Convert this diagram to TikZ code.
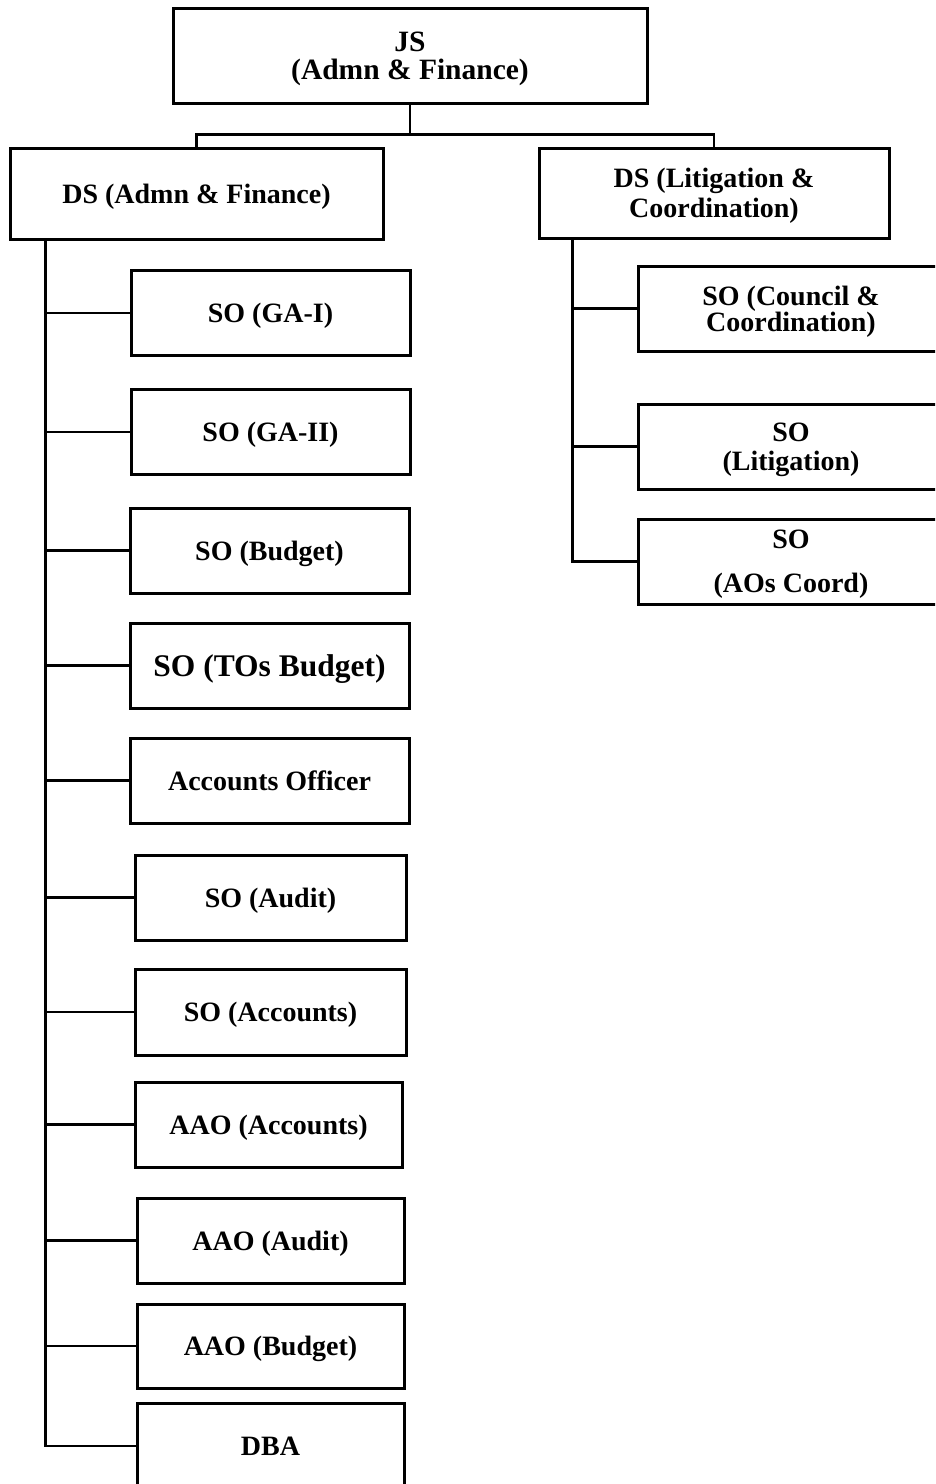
\documentclass[tikz,border=0pt]{standalone}
\usepackage{fontspec}
\setmainfont{Liberation Serif}
\usetikzlibrary{calc}
\begin{document}
\begin{tikzpicture}[x=1pt,y=-1pt,
  box/.style={draw, line width=3pt, inner sep=0pt, align=center, text depth=0pt,
    font=\fontsize{28}{29.5}\selectfont\bfseries},
  lbox/.style={box, minimum width=279, minimum height=85},
  rbox/.style={box, minimum width=306, minimum height=85},
  conn/.style={line width=2.7pt}]
\useasboundingbox (0,0) rectangle (935,1484);
\clip (0,0) rectangle (935,1484);
\fill[white] (0,0) rectangle (935,1484);

% top level
\node[box, minimum width=474, minimum height=95,
  font=\fontsize{29.5}{28.5}\selectfont\bfseries] (js) at (410,55.5)
  {JS\\(Admn \& Finance)};

% deputy secretaries
\node[box, minimum width=373, minimum height=91] (dsl) at (196.5,193.5) {DS (Admn \& Finance)};
\node[box, minimum width=350, minimum height=90] (dsr) at (714,193) {DS (Litigation \&\\Coordination)};

% left column
\node[lbox] (l1) at (270.5,313) {SO (GA-I)};
\node[lbox] (l2) at (270.5,432) {SO (GA-II)};
\node[lbox] (l3) at (269.5,550.5) {SO (Budget)};
\node[lbox, font=\fontsize{31.5}{33}\selectfont\bfseries] (l4) at (269.5,665.5) {SO (TOs Budget)};
\node[lbox] (l5) at (269.5,780.5) {Accounts Officer};
\node[lbox, minimum width=271] (l6) at (270.5,897.5) {SO (Audit)};
\node[lbox, minimum width=271, minimum height=86] (l7) at (270.5,1012) {SO (Accounts)};
\node[lbox, minimum width=267] (l8) at (268.5,1124.5) {AAO (Accounts)};
\node[lbox, minimum width=267] (l9) at (270.5,1240.5) {AAO (Audit)};
\node[lbox, minimum width=267, minimum height=84] (l10) at (270.5,1346) {AAO (Budget)};
\node[lbox, minimum width=267, minimum height=86] (l11) at (270.5,1446) {DBA};

% right column
\node[rbox, font=\fontsize{28}{26}\selectfont\bfseries] (r1) at (791,308.5) {SO (Council \&\\Coordination)};
\node[rbox] (r2) at (791,446.5) {SO\\(Litigation)};
\node[rbox, font=\fontsize{28}{44}\selectfont\bfseries] (r3) at (791,561.5) {SO\\(AOs Coord)};

% connectors
\draw[conn] (js.south) -- ++(0,30) coordinate (jm) -| (dsl.north);
\draw[conn] (jm) -| (dsr.north);

\coordinate (tl) at ($(dsl.south west)+(37,0)$);
\coordinate (tr) at ($(dsr.south west)+(35,0)$);

\foreach \n in {l1,l2,l3,l4,l5,l6,l7,l8,l9,l10,l11}
  \draw[conn] (tl) |- (\n.west);
\foreach \n in {r1,r2,r3}
  \draw[conn] (tr) |- (\n.west);
\end{tikzpicture}
\end{document}
